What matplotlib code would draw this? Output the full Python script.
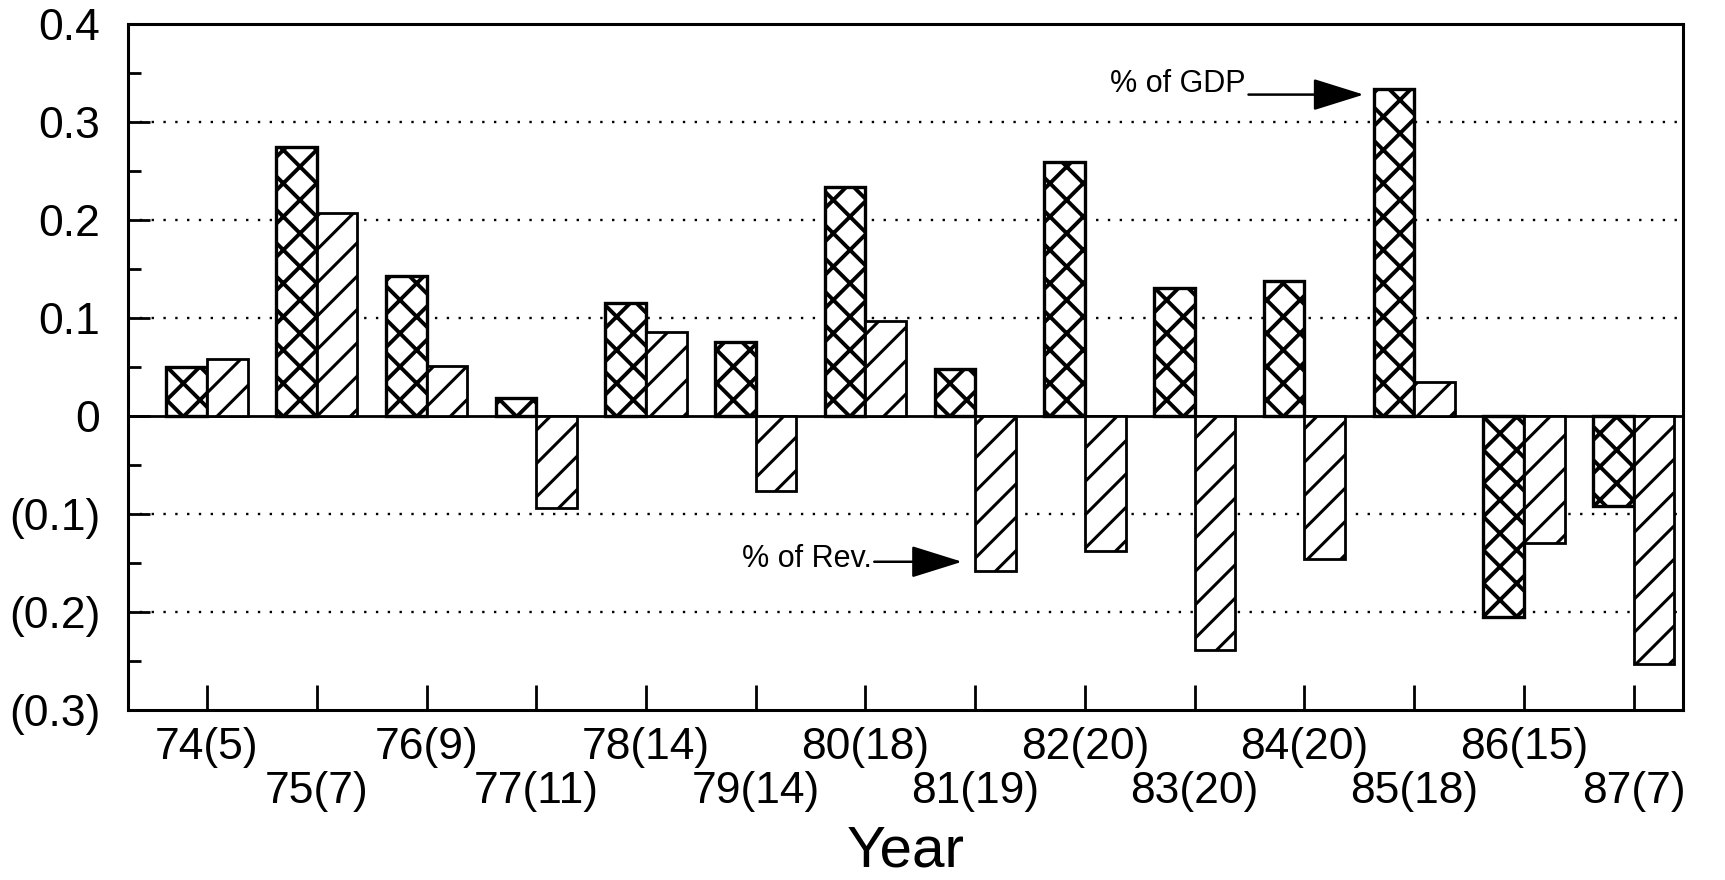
import numpy as np
import matplotlib
matplotlib.use("Agg")
import matplotlib.pyplot as plt
from matplotlib.ticker import MultipleLocator, FixedLocator

# ===============================
# DATA
# ===============================
years = ["74(5)", "75(7)", "76(9)", "77(11)", "78(14)", "79(14)", "80(18)",
         "81(19)", "82(20)", "83(20)", "84(20)", "85(18)", "86(15)", "87(7)"]
pct_gdp = [0.050, 0.275, 0.143, 0.018, 0.115, 0.076, 0.234,
           0.048, 0.259, 0.131, 0.138, 0.334, -0.205, -0.092]
pct_rev = [0.058, 0.207, 0.051, -0.094, 0.086, -0.076, 0.097,
           -0.158, -0.138, -0.239, -0.146, 0.035, -0.129, -0.253]
y_ticks = [0.4, 0.3, 0.2, 0.1, 0.0, -0.1, -0.2, -0.3]
y_tick_labels = ["0.4", "0.3", "0.2", "0.1", "0", "(0.1)", "(0.2)", "(0.3)"]
grid_levels = [0.3, 0.2, 0.1, -0.1, -0.2]

plt.rcParams['font.family'] = ['Liberation Sans', 'DejaVu Sans']
plt.rcParams['hatch.linewidth'] = 2.6
plt.rcParams['hatch.color'] = 'black'

# ===============================
# FIGURE
# ===============================
fig = plt.figure(figsize=(17.25, 8.8), dpi=100)
ax = fig.add_axes([0.0742, 0.193, 0.9015, 0.7797])

x = np.arange(len(years))
w = 0.37

for lvl in grid_levels:
    ax.axhline(lvl, color='black', lw=1.7, linestyle=(0, (1, 4)), zorder=1)
ax.axhline(0, color='black', lw=2.0, zorder=1)

bars_gdp = ax.bar(x - w / 2, pct_gdp, width=w, facecolor='white', edgecolor='black',
                  linewidth=2.4, hatch='x', zorder=2)
bars_rev = ax.bar(x + w / 2, pct_rev, width=w, facecolor='white', edgecolor='black',
                  linewidth=2.0, hatch='/', zorder=2)
# heavier hatch strokes (crosshatch darker than the diagonal fill)
for b in bars_gdp:
    b.set_hatch_linewidth(2.8)
for b in bars_rev:
    b.set_hatch_linewidth(2.2)

ax.set_xlim(-0.72, 13.45)
ax.set_ylim(-0.3, 0.4)

# ===============================
# AXES / TICKS
# ===============================
for s in ax.spines.values():
    s.set_linewidth(2.2)

ax.yaxis.set_major_locator(FixedLocator(y_ticks))
ax.set_yticklabels(y_tick_labels)
ax.yaxis.set_minor_locator(MultipleLocator(0.05))
ax.tick_params(axis='y', which='major', direction='in', length=16, width=2.0,
               labelsize=32, pad=20)
ax.tick_params(axis='y', which='minor', direction='in', length=9, width=2.0)

ax.set_xticks(x)
ax.set_xticklabels(years)
ax.tick_params(axis='x', which='major', direction='in', length=18, width=2.0,
               labelsize=32)
# staggered labels: odd years on a second row
for i, tick in enumerate(ax.xaxis.get_major_ticks()):
    tick.set_pad(12 if i % 2 == 0 else 44)

ax.set_xlabel("Year", fontsize=42, labelpad=9)

# ===============================
# ANNOTATIONS
# ===============================
arrow_kw = dict(arrowstyle='-|>,head_length=1.6,head_width=0.5',
                mutation_scale=20, lw=1.8, color='black',
                shrinkA=0, shrinkB=0)

ax.text(9.46, 0.331, "% of GDP", fontsize=22, ha='right', va='baseline')
ax.annotate("", xy=(10.54, 0.328), xytext=(9.49, 0.328), arrowprops=arrow_kw)

ax.text(6.06, -0.1537, "% of Rev.", fontsize=22, ha='right', va='baseline')
ax.annotate("", xy=(6.88, -0.1486), xytext=(6.08, -0.1486), arrowprops=arrow_kw)

fig.savefig("out.png", dpi=100)
